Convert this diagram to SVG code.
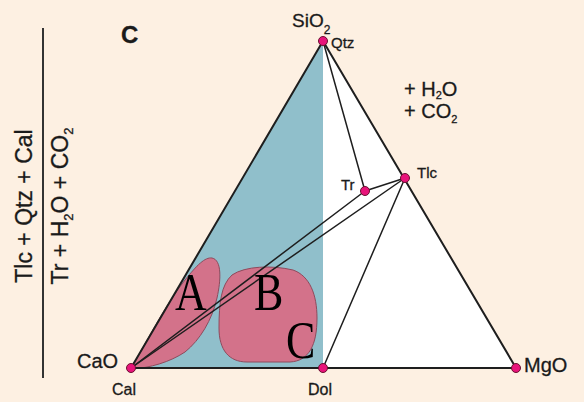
<svg xmlns="http://www.w3.org/2000/svg" width="584" height="402" viewBox="0 0 584 402">
<style>
.lbl{font-family:"Liberation Sans",Arial,sans-serif;fill:#1a1a1a;stroke:#1a1a1a;stroke-width:0.3}
.big{font-family:"Liberation Serif","Times New Roman",serif;fill:#000;font-size:44px}
.edge{stroke:#1e1e1e;stroke-width:2;fill:none;stroke-linecap:round}
.tie{stroke:#1e1e1e;stroke-width:1.5;fill:none;stroke-linecap:round}
.blob{fill:#d3728a;stroke:#8e4a5c;stroke-width:1}
.dot{fill:#e8147a;stroke:#6a1030;stroke-width:1}
</style>
<rect width="584" height="402" fill="#fdf0e2"/>
<g id="fields">
<polygon points="131,368 323,41 323,368" fill="#90bfcb"/>
<polygon points="323,41 323,368 516,368" fill="#ffffff"/>
<path class="blob" d="M131,368 C145,345 165,305 185,280 C197,265 205,257 212,258 C222,260 221,280 217,298 C212,320 200,340 185,352 C170,362 150,368 131,369 Z"/>
<path class="blob" d="M232,275 C245,266 272,265 293,270 C310,276 317,295 317,318 C317,345 309,361 290,362 L247,362 C229,362 219,350 219,328 C219,303 221,285 232,275 Z"/>
</g>
<g id="connectors">
<line class="edge" x1="131" y1="368" x2="323" y2="41"/>
<line class="edge" x1="323" y1="41" x2="516" y2="368"/>
<line class="edge" x1="131" y1="368" x2="516" y2="368" stroke-width="2.5"/>
<line class="tie" x1="323" y1="41" x2="365" y2="191"/>
<line class="tie" x1="365" y1="191" x2="405" y2="178"/>
<line class="tie" x1="405" y1="178" x2="323" y2="368"/>
<line class="tie" x1="131" y1="368" x2="365" y2="191"/>
<line class="tie" x1="131" y1="368" x2="405" y2="178"/>
</g>
<g id="node-qtz">
<circle class="dot" cx="323" cy="41" r="4.5"/>
<text class="lbl" x="292" y="27" font-size="19">SiO<tspan font-size="12" dy="7">2</tspan></text>
<text class="lbl" x="331" y="48" font-size="15">Qtz</text>
</g>
<g id="node-tr">
<circle class="dot" cx="365" cy="191" r="4.5"/>
<text class="lbl" x="341" y="190" font-size="15">Tr</text>
</g>
<g id="node-tlc">
<circle class="dot" cx="405" cy="178" r="4.5"/>
<text class="lbl" x="417" y="178" font-size="15">Tlc</text>
</g>
<g id="node-cal">
<circle class="dot" cx="131" cy="368" r="4.5"/>
<text class="lbl" x="77" y="368" font-size="20">CaO</text>
<text class="lbl" x="112" y="395" font-size="16">Cal</text>
</g>
<g id="node-dol">
<circle class="dot" cx="323" cy="368" r="4.5"/>
<text class="lbl" x="308" y="395" font-size="16">Dol</text>
</g>
<g id="node-mgo">
<circle class="dot" cx="516" cy="368" r="4.5"/>
<text class="lbl" x="524" y="372" font-size="20">MgO</text>
</g>
<g id="labels">
<text class="lbl" x="121" y="43" font-size="24" font-weight="bold">C</text>
<text class="lbl" x="404" y="96" font-size="20">+ H<tspan font-size="11" dy="3">2</tspan><tspan dy="-3">O</tspan></text>
<text class="lbl" x="404" y="118" font-size="20">+ CO<tspan font-size="11" dy="5">2</tspan></text>
<line x1="43" y1="28" x2="43" y2="378" stroke="#333" stroke-width="2"/>
<text class="lbl" transform="translate(32,206) rotate(-90)" font-size="23" text-anchor="middle">Tlc + Qtz + Cal</text>
<text class="lbl" transform="translate(68,206) rotate(-90)" font-size="23" text-anchor="middle">Tr + H<tspan font-size="13" dy="5">2</tspan><tspan dy="-5">O + CO</tspan><tspan font-size="13" dy="5">2</tspan></text>
<text class="big" transform="translate(175,310) scale(1,1.2)">A</text>
<text class="big" transform="translate(254,310) scale(1,1.2)">B</text>
<text class="big" transform="translate(286,358) scale(1,1.2)">C</text>
</g>
</svg>
